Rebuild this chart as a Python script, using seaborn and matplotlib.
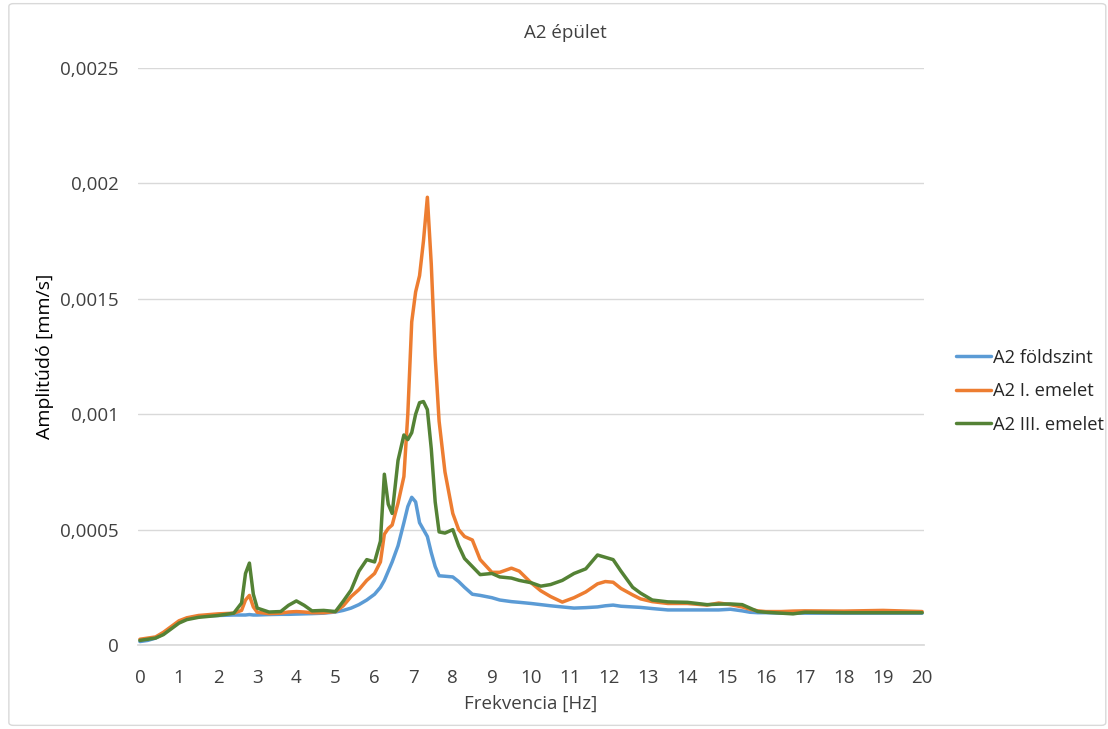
import pandas as pd
import seaborn as sns
import matplotlib.pyplot as plt
from matplotlib.ticker import FuncFormatter
from matplotlib.patches import FancyBboxPatch

# frequency grid [Hz]
freq = [0, 0.2, 0.4, 0.6, 0.8, 1.0, 1.2, 1.5, 2.0, 2.4, 2.6, 2.7, 2.8, 2.9, 3.0,
        3.3, 3.6, 3.8, 4.0, 4.2, 4.4, 4.7, 5.0, 5.2, 5.4, 5.6, 5.8, 6.0, 6.15,
        6.25, 6.35, 6.45, 6.6, 6.75, 6.85, 6.95, 7.05, 7.15, 7.25, 7.35, 7.45,
        7.55, 7.65, 7.8, 8.0, 8.15, 8.3, 8.5, 8.7, 9.0, 9.2, 9.5, 9.7, 10.0,
        10.25, 10.5, 10.8, 11.1, 11.4, 11.7, 11.9, 12.1, 12.3, 12.6, 12.8, 13.1,
        13.5, 14.0, 14.5, 14.8, 15.1, 15.4, 15.6, 15.8, 16.0, 16.4, 16.7, 17.0,
        18.0, 19.0, 20.0]

# amplitudes in units of 1e-4 mm/s
foldszint = [0.15, 0.2, 0.3, 0.5, 0.75, 1.0, 1.15, 1.25, 1.28, 1.3, 1.3, 1.3, 1.32, 1.3, 1.3,
             1.32, 1.33, 1.33, 1.34, 1.35, 1.36, 1.38, 1.43, 1.5, 1.6, 1.75, 1.95, 2.2, 2.5,
             2.8, 3.2, 3.6, 4.3, 5.3, 6.0, 6.4, 6.2, 5.3, 5.0, 4.7, 4.0,
             3.4, 3.0, 2.98, 2.95, 2.75, 2.5, 2.2, 2.15, 2.05, 1.95, 1.88, 1.85, 1.8,
             1.75, 1.7, 1.65, 1.6, 1.62, 1.65, 1.7, 1.73, 1.68, 1.65, 1.63, 1.58,
             1.52, 1.52, 1.52, 1.52, 1.55, 1.48, 1.42, 1.4, 1.4, 1.38, 1.38, 1.38,
             1.38, 1.38, 1.38]

emelet1 = [0.25, 0.3, 0.35, 0.55, 0.8, 1.05, 1.18, 1.28, 1.35, 1.38, 1.5, 1.95, 2.15, 1.65, 1.42,
           1.36, 1.38, 1.43, 1.45, 1.43, 1.4, 1.4, 1.45, 1.7, 2.1, 2.4, 2.8, 3.1, 3.6,
           4.8, 5.05, 5.2, 6.15, 7.3, 10.0, 14.0, 15.3, 16.0, 17.5, 19.4, 16.5,
           12.5, 9.7, 7.5, 5.7, 5.0, 4.7, 4.55, 3.7, 3.15, 3.15, 3.33, 3.2, 2.7,
           2.35, 2.1, 1.86, 2.05, 2.3, 2.65, 2.75, 2.72, 2.45, 2.17, 2.0, 1.88,
           1.8, 1.8, 1.73, 1.82, 1.75, 1.65, 1.55, 1.48, 1.45, 1.45, 1.47, 1.48,
           1.47, 1.5, 1.45]

emelet3 = [0.2, 0.25, 0.3, 0.45, 0.7, 0.95, 1.1, 1.2, 1.28, 1.38, 1.82, 3.1, 3.55, 2.2, 1.6,
           1.43, 1.45, 1.72, 1.91, 1.72, 1.48, 1.5, 1.45, 1.9, 2.38, 3.2, 3.7, 3.6, 4.5,
           7.4, 6.1, 5.7, 8.0, 9.1, 8.9, 9.2, 10.0, 10.5, 10.55, 10.2, 8.5,
           6.2, 4.9, 4.85, 5.0, 4.3, 3.75, 3.4, 3.05, 3.1, 2.95, 2.9, 2.8, 2.7,
           2.55, 2.62, 2.8, 3.1, 3.3, 3.9, 3.8, 3.7, 3.2, 2.5, 2.25, 1.95,
           1.87, 1.85, 1.75, 1.77, 1.78, 1.75, 1.6, 1.45, 1.42, 1.38, 1.35, 1.42,
           1.4, 1.4, 1.4]

series = ["A2 földszint", "A2 I. emelet", "A2 III. emelet"]
colors = ["#5B9BD5", "#ED7D31", "#548235"]

frames = []
for name, vals in zip(series, [foldszint, emelet1, emelet3]):
    frames.append(pd.DataFrame({"freq": freq, "amp": [v * 1e-4 for v in vals], "series": name}))
df = pd.concat(frames, ignore_index=True)

sns.set_theme(style="white")
plt.rcParams["font.family"] = ["Open Sans", "DejaVu Sans"]

fig = plt.figure(figsize=(11.08, 7.29), dpi=100)
ax = fig.add_axes([0.1245, 0.1152, 0.7095, 0.7915])

sns.lineplot(data=df, x="freq", y="amp", hue="series", palette=colors,
             linewidth=2.5, ax=ax, sort=False)

ax.set_xlim(-0.05, 20.05)
ax.set_ylim(0, 0.0025)
ax.set_xticks(range(0, 21))
ax.set_yticks([0, 0.0005, 0.001, 0.0015, 0.002, 0.0025])
ax.yaxis.set_major_formatter(FuncFormatter(
    lambda v, p: "0" if v == 0 else ("%g" % v).replace(".", ",")))
ax.tick_params(axis="both", labelsize=13.5, colors="#404040", length=0, pad=14)
ax.tick_params(axis="x", length=4, color="#d9d9d9", pad=13)
ax.grid(axis="y", color="#d9d9d9", linewidth=1)
for s in ["top", "right", "left"]:
    ax.spines[s].set_visible(False)
ax.spines["bottom"].set_color("#d9d9d9")

ax.set_xlabel("Frekvencia [Hz]", fontsize=13.5, color="#404040", labelpad=6)
ax.set_ylabel("Amplitúdó [mm/s]", fontsize=14, color="#000000", labelpad=4)
fig.text(0.51, 0.955, "A2 épület", ha="center", va="center", fontsize=13.5, color="#404040")

leg = ax.legend(loc="center left", bbox_to_anchor=(1.02, 0.44), frameon=False,
                fontsize=13.2, handlelength=1.9, handletextpad=0.1, labelspacing=0.85)
for line in leg.get_lines():
    line.set_linewidth(2.5)

fig.patches.append(FancyBboxPatch((0.008, 0.005), 0.99, 0.99, boxstyle="round,pad=0,rounding_size=0.004",
                                  transform=fig.transFigure, fill=False, edgecolor="#d9d9d9", linewidth=1))

fig.savefig("out.png", dpi=100)
